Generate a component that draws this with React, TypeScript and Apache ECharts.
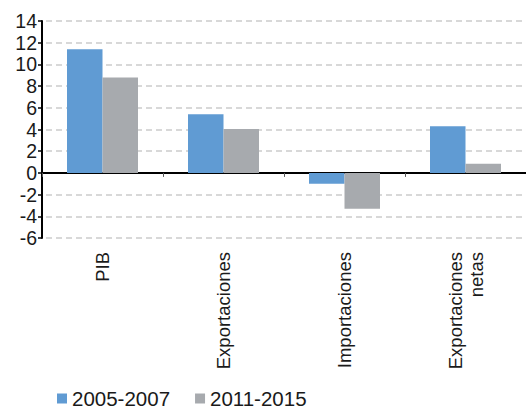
import React, { useEffect, useRef } from "react";
import * as echarts from "echarts";

const categories = ["PIB", "Exportaciones", "Importaciones", "Exportaciones\nnetas"];
const series2005 = [11.4, 5.4, -1.0, 4.3];
const series2011 = [8.8, 4.05, -3.3, 0.85];
const seriesNames = ["2005-2007", "2011-2015"];

const FONT = "'Liberation Sans', Arial, sans-serif";

export default function App() {
  const ref = useRef<HTMLDivElement>(null);
  useEffect(() => {
    document.body.style.margin = "0";
    const chart = echarts.init(ref.current!, null, { renderer: "svg" });
    chart.setOption({
      animation: false,
      grid: { left: 42, top: 21, width: 488, bottom: 174, containLabel: false },
      legend: {
        left: 52,
        top: 383,
        itemWidth: 10,
        itemHeight: 10,
        itemGap: 25,
        icon: "rect",
        textStyle: { fontFamily: FONT, fontSize: 20.5, color: "#1a1a1a" },
        data: seriesNames,
      },
      xAxis: [
        {
          type: "category",
          data: categories,
          position: "bottom",
          axisLine: { show: false, onZero: false },
          axisTick: { show: false },
          axisLabel: {
            rotate: 90,
            margin: 14,
            fontFamily: FONT,
            fontSize: 18.5,
            lineHeight: 21,
            color: "#1a1a1a",
            interval: 0,
          },
        },
        {
          type: "category",
          data: categories,
          position: "bottom",
          axisLine: { show: true, onZero: true, onZeroAxisIndex: 0, lineStyle: { color: "#000", width: 2 } },
          axisTick: { show: true, length: 4, lineStyle: { color: "#555", width: 1 } },
          axisLabel: { show: false },
          splitLine: { show: false },
        },
      ],
      yAxis: {
        type: "value",
        min: -6,
        max: 14,
        interval: 2,
        axisLine: { show: true, onZero: false, lineStyle: { color: "#000", width: 2 } },
        axisTick: { show: true, length: 4, lineStyle: { color: "#000", width: 1.5 } },
        axisLabel: { margin: 5, fontFamily: FONT, fontSize: 19.5, color: "#1a1a1a" },
        splitLine: { show: true, lineStyle: { color: "#cbcbcb", type: [6, 4], dashOffset: -4, width: 1.5 } },
      },
      series: [
        {
          name: seriesNames[0],
          type: "bar",
          xAxisIndex: 0,
          data: series2005,
          barWidth: 35.5,
          barGap: "0%",
          itemStyle: { color: "#609bd3" },
        },
        {
          name: seriesNames[1],
          type: "bar",
          xAxisIndex: 0,
          data: series2011,
          barWidth: 35.5,
          barGap: "0%",
          itemStyle: { color: "#a7aaae" },
        },
      ],
    });
    return () => chart.dispose();
  }, []);
  return <div ref={ref} style={{ width: 526, height: 412 }} />;
}
